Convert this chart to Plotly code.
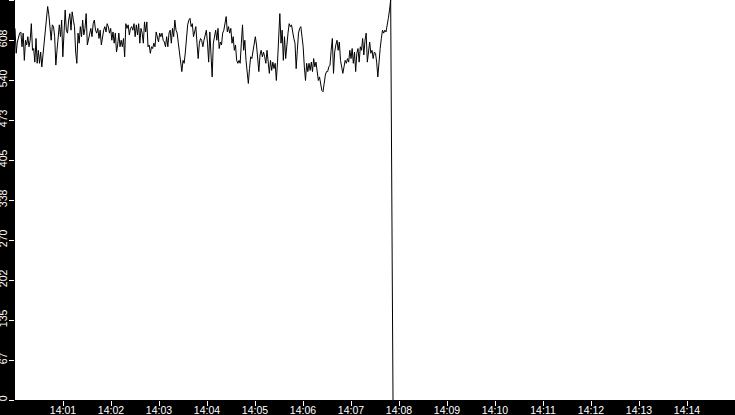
import plotly.graph_objects as go
import pandas as pd

# Recording day / time window
DAY = "2024-01-01"
REC_START = "14:00:00"
REC_END = "14:07:52.5"
VIEW_START = "14:00:00"
VIEW_END = "14:15:00"
Y_MAX = 676

# Samples (one per ~1.5 s)
values = [
    628, 586, 605, 614, 620, 622, 597, 620, 574, 608, 600, 614, 597, 608, 636, 591,
    594, 571, 611, 569, 591, 569, 588, 563, 586, 608, 620, 642, 665, 651, 631, 608,
    634, 631, 614, 566, 591, 614, 634, 614, 642, 580, 636, 659, 625, 620, 642, 653,
    625, 656, 642, 631, 588,
    569, 620, 603, 631, 614, 642, 617, 628, 653, 600, 608, 620, 628, 614, 636, 642,
    625, 620, 628, 611, 625, 600, 614, 625, 631, 622, 636, 631, 620, 628, 608, 622,
    603, 620, 588, 600, 620, 597, 608, 597, 611, 580, 636, 628, 634, 617, 628, 631,
    625, 636, 614,
    634, 617, 636, 603, 628, 620, 603, 639, 622, 639, 597, 600, 586, 597, 594, 603,
    597, 622, 614, 605, 620, 614, 620, 608, 605, 597, 614, 597, 620, 625, 603, 628,
    614, 642, 625, 620, 603, 588, 569, 555, 574, 569, 588, 614, 634, 642, 645, 631,
    636, 614, 625, 631, 603, 577, 603, 611, 608,
    597, 608, 620, 625, 603, 571, 622, 580, 546, 603, 617, 625, 608, 628, 594, 605,
    600, 620, 625, 636, 648, 622, 631, 620, 628, 603, 614, 591, 600, 574, 569, 574,
    569, 603, 634, 591, 608, 574, 557, 535, 560, 580, 577, 591, 608, 614, 600, 574,
    555, 583, 591, 580, 588, 580, 569,
    591, 563, 552, 574, 557, 571, 560, 569, 540, 571, 622, 653, 603, 625, 574, 614,
    577, 603, 620, 636, 631, 634, 620, 611, 603, 560, 591, 620, 628, 631, 614, 597,
    563, 540, 569, 555, 569, 557, 571, 555, 577, 563, 571, 555, 540, 546, 532, 523,
    521, 538, 549, 555, 555, 563,
    566, 591, 611, 552, 588, 600, 608, 591, 605, 574, 563, 552, 563, 574, 569, 577,
    571, 591, 577, 594, 569, 588, 555, 586, 594, 571, 597, 591, 611, 583, 608, 620,
    571, 594, 605, 586, 591, 577, 588, 586, 571, 546, 577, 594, 611, 625, 620, 625,
    622, 639, 645, 659, 676, 338, 0,
]

x_tick_labels = ["14:01", "14:02", "14:03", "14:04", "14:05", "14:06", "14:07",
                 "14:08", "14:09", "14:10", "14:11", "14:12", "14:13", "14:14"]
y_tick_labels = ["0", "67", "135", "202", "270", "338", "405", "473", "540", "608", "676"]

times = pd.date_range(f"{DAY} {REC_START}", f"{DAY} {REC_END}", periods=len(values))
x_tick_vals = [pd.Timestamp(f"{DAY} {t}") for t in x_tick_labels]
y_tick_vals = [Y_MAX * i / (len(y_tick_labels) - 1) for i in range(len(y_tick_labels))]

tick_font = dict(family="Liberation Sans, Arial, sans-serif", size=10.5, color="white")

fig = go.Figure()
fig.add_trace(go.Scatter(
    x=times, y=values,
    mode="lines",
    line=dict(color="black", width=1),
    hoverinfo="skip",
    showlegend=False,
))

fig.update_layout(
    template="none",
    width=735, height=415,
    margin=dict(l=15, r=0, t=0, b=15),
    paper_bgcolor="black",
    plot_bgcolor="white",
    xaxis=dict(
        range=[f"{DAY} {VIEW_START}", f"{DAY} {VIEW_END}"],
        tickvals=x_tick_vals, ticktext=x_tick_labels,
        ticks="outside", ticklen=5, tickwidth=1, tickcolor="white",
        tickfont=tick_font, ticklabelstandoff=-5,
        showgrid=False, zeroline=False, showline=False, automargin=False,
    ),
    yaxis=dict(
        range=[0, Y_MAX],
        tickvals=y_tick_vals, ticktext=y_tick_labels,
        tickangle=-90,
        ticks="outside", ticklen=5, tickwidth=1, tickcolor="white",
        tickfont=tick_font, ticklabelstandoff=-2,
        showgrid=False, zeroline=False, showline=False, automargin=False,
    ),
)

# page body has a default 8px margin; drop it so the chart fills the window
fig.write_html("out.html", config={"displayModeBar": False},
               post_script="document.body.style.margin='0';")
